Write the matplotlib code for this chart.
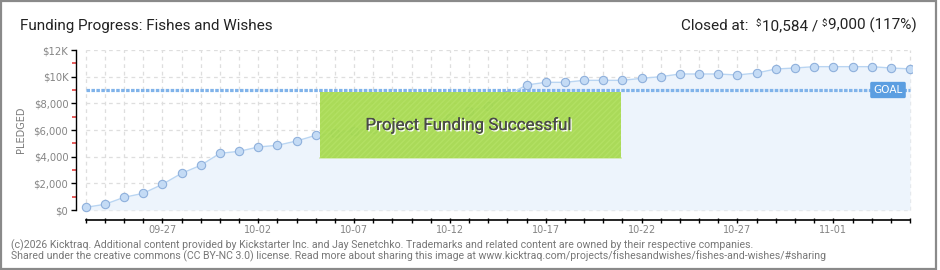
import matplotlib
matplotlib.use("Agg")
import matplotlib.pyplot as plt
from matplotlib.patches import Rectangle
import matplotlib.patheffects as pe
import pandas as pd

# ---------------- data ----------------
dates = pd.date_range("2025-09-23", periods=44, freq="D").strftime("%m-%d").tolist()
pledged = [200, 425, 950, 1250, 1925, 2750, 3350, 4250, 4400, 4725,
           4850, 5175, 5600, 5775, 5950, 6100, 6250, 6450, 6650, 6900,
           7425, 7800, 8600, 9375, 9575, 9575, 9725, 9725, 9725, 9875,
           10000, 10200, 10200, 10200, 10125, 10275, 10575, 10650, 10750, 10750,
           10750, 10750, 10650, 10584]
goal = 9000
ytick_values = [0, 2000, 4000, 6000, 8000, 10000, 12000]
ytick_labels = ["$0", "$2,000", "$4,000", "$6,000", "$8,000", "$10K", "$12K"]
yminor_values = [1000, 3000, 5000, 7000, 9000, 11000]
xtick_labels = ["09-27", "10-02", "10-07", "10-12", "10-17", "10-22", "10-27", "11-01"]
title = "Funding Progress: Fishes and Wishes"
closed_parts = ["Closed at:  ", "$", "10,584 / ", "$", "9,000 (117%)"]
footer1 = ("(c)2026 Kicktraq. Additional content provided by Kickstarter Inc. and Jay Senetchko. "
           "Trademarks and related content are owned by their respective companies.")
footer2 = ("Shared under the creative commons (CC BY-NC 3.0) license. Read more about sharing this "
           "image at www.kicktraq.com/projects/fishesandwishes/fishes-and-wishes/#sharing")

W, H = 940, 270
fig = plt.figure(figsize=(W / 100, H / 100), dpi=100)
fig.patch.set_facecolor("white")
renderer = fig.canvas.get_renderer()

def fx(x):
    return x / W

def fy(y):
    return 1 - y / H

def fit(t, target_w):
    """Scale the font size of text t so that its rendered width is target_w pixels."""
    w = t.get_window_extent(renderer).width
    t.set_fontsize(t.get_fontsize() * target_w / w)
    return t

FONT = ["Roboto", "DejaVu Sans"]

# border
fig.patches.append(Rectangle((fx(0.8), fy(269.2)), fx(936.5) - fx(0.8), fy(0.8) - fy(269.2),
                             transform=fig.transFigure, fill=False, edgecolor="#8a8a8a",
                             lw=1.6, zorder=10))

# axes geometry (pixels): index 0 at x=85.7, step 19.17; y=0 at 210, 12000 at 50
x0, step = 85.7, 19.17
ax_l, ax_r, ax_t, ax_b = 76, 912, 50, 220
ax = fig.add_axes([fx(ax_l), fy(ax_b), fx(ax_r) - fx(ax_l), fy(ax_t) - fy(ax_b)])
ax.set_facecolor("none")
ax.set_xlim((ax_l - x0) / step, (ax_r - x0) / step)
ppk = (210 - 50) / 12000.0
ax.set_ylim(-(ax_b - 210) / ppk, 12000)

xs = list(range(len(pledged)))
n = len(pledged) - 1

# grid
ax.hlines(ytick_values, 0, n, colors="#dedede", linestyles=(0, (3, 3)), lw=0.9, zorder=0)
ax.vlines(xs, 0, 12000, colors="#dedede", linestyles=(0, (3, 3)), lw=0.9, zorder=0)

# area + line
ax.fill_between(xs, 0, pledged, color="#edf4fc", lw=0, zorder=1)
ax.plot(xs, pledged, color="#b9d5f2", lw=1.0, marker="o", ms=6.0,
        mfc="#c4dbf5", mec="#8fb0dc", mew=0.8, zorder=4)

# goal line
ax.plot([0, n], [goal, goal], color="#80b3ea", lw=2.3, linestyle=(0, (1.1, 0.45)), zorder=3,
        solid_capstyle="butt", dash_capstyle="butt")
gx = (888 - x0) / step
ax.text(gx, goal, "GOAL", ha="center", va="center", color="white", fontsize=7.6,
        fontfamily="DejaVu Sans", zorder=6,
        bbox=dict(boxstyle="round,pad=0.3,rounding_size=0.15", fc="#5b9ee1", ec="none"))

# spines and ticks
for s in ("top", "right"):
    ax.spines[s].set_visible(False)
ax.spines["left"].set_bounds(0, 12000)
ax.spines["bottom"].set_bounds(0, n)
ax.spines["left"].set_color("black")
ax.spines["bottom"].set_color("black")
ax.spines["left"].set_linewidth(1.0)
ax.spines["bottom"].set_linewidth(1.2)

ax.set_yticks(ytick_values)
ax.set_yticklabels(ytick_labels)
ax.set_yticks(yminor_values, minor=True)
ax.tick_params(axis="y", which="major", length=3.5, width=1, color="black",
               labelsize=7.2, labelcolor="#858585", pad=2)
ax.tick_params(axis="y", which="minor", length=3, width=1.1, color="#e03030")

ax.set_xticks(xs)
ax.set_xticklabels([d if d in xtick_labels else "" for d in dates])
ax.tick_params(axis="x", which="major", direction="inout", length=3.6, width=1,
               color="black", labelsize=7.0, labelcolor="#858585", pad=1.5)

fig.text(fx(21), fy(130), "PLEDGED", rotation=90, ha="center", va="center",
         fontsize=7.0, color="#7a7a7a", fontfamily="DejaVu Sans")

# success overlay
bx0, bx1, by0, by1 = 320, 621, 92, 158
fig.patches.append(Rectangle((fx(bx0), fy(by1)), fx(bx1) - fx(bx0), fy(by0) - fy(by1),
                             transform=fig.transFigure, facecolor="#a5d94c", edgecolor="#b3e164",
                             hatch="//////", lw=0, alpha=0.93, zorder=5))
fig.lines.append(plt.Line2D([fx(bx0), fx(bx1)], [fy(by1), fy(by1)], transform=fig.transFigure,
                            color="#cfe8ad", lw=1.2, zorder=5))
succ = fig.text(fx(468.5), fy(125), "Project Funding Successful", ha="center", va="center",
                fontsize=13.2, color="#4a4a4a", fontfamily=FONT, zorder=6,
                path_effects=[pe.withSimplePatchShadow(offset=(1, -1), shadow_rgbFace="white",
                                                       alpha=1), pe.Normal()])
fit(succ, 207)

# titles
tt = fig.text(fx(20), fy(30), title, ha="left", va="baseline", fontsize=11.8, color="#222222",
              fontfamily=FONT)
fit(tt, 255)
big = tt.get_fontsize()

texts = []
cur = 0.0
for part in closed_parts:
    small = part == "$"
    t = fig.text(fx(cur), fy(30 - (4 if small else 0)), part, ha="left", va="baseline",
                 fontsize=big * 0.62 if small else big, color="#222222", fontfamily=FONT)
    bb = t.get_window_extent(renderer)
    cur += bb.width + (1 if small else 0)
    texts.append(t)
shift = 917 - cur
for t in texts:
    x, y = t.get_position()
    t.set_position((x + fx(shift), y))

# footer
f1 = fig.text(fx(11), fy(245), footer1, ha="left", va="center", fontsize=7.3, color="#777777",
              fontfamily=FONT)
fit(f1, 748 - 11)
f2 = fig.text(fx(11), fy(256.5), footer2, ha="left", va="center", fontsize=f1.get_fontsize(),
              color="#777777", fontfamily=FONT)

fig.savefig("out.png", dpi=100)
